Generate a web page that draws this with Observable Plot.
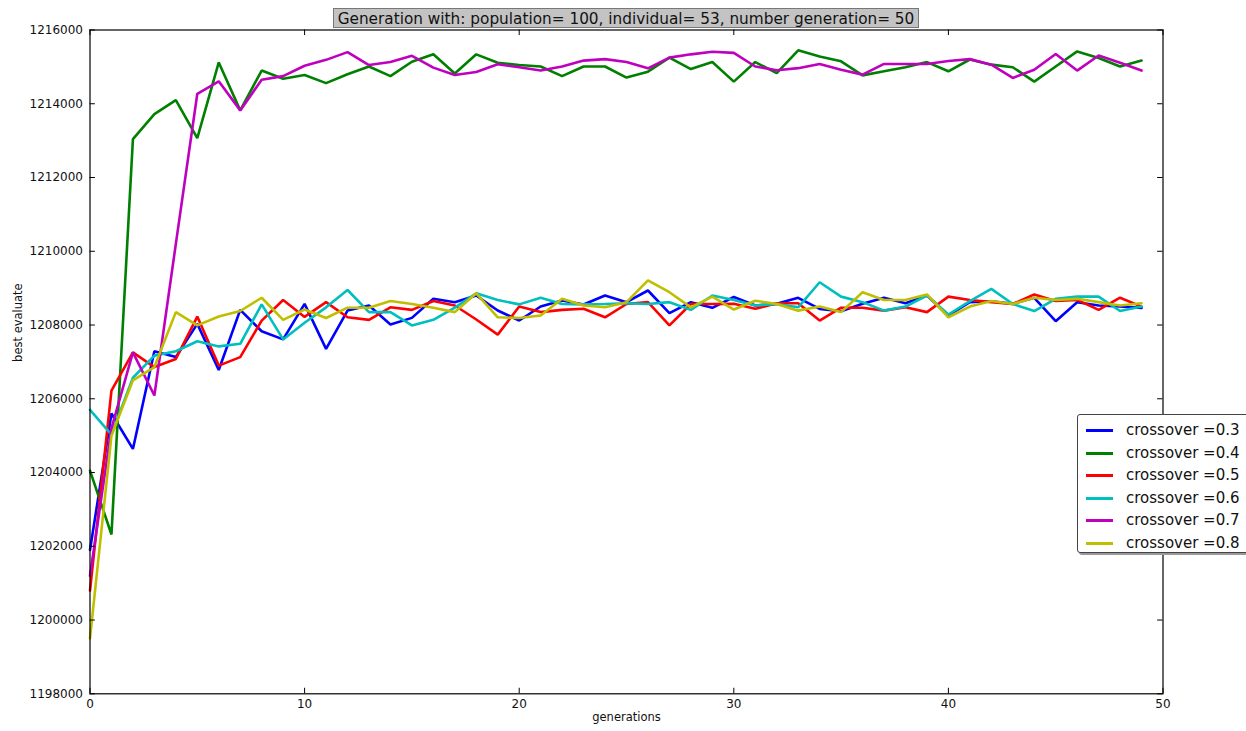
<!DOCTYPE html>
<html>
<head>
<meta charset="utf-8">
<script src="https://cdn.jsdelivr.net/npm/d3@7"></script>
<script src="https://cdn.jsdelivr.net/npm/@observablehq/plot@0.6"></script>
<style>
  html, body { margin: 0; padding: 0; background: white; overflow: hidden; }
  #wrap { position: relative; width: 1246px; height: 731px; font-family: "DejaVu Sans", sans-serif; }
  #title { position: absolute; left: 333px; top: 8px; width: 586px; height: 20px; line-height: 20px;
           background: #c3c3c3; border: 1px solid #777; box-sizing: border-box; text-align: center;
           font-size: 15.3px; color: #111; white-space: nowrap; }
  #legend { position: absolute; left: 1077px; top: 414px; width: 190px; height: 139px; background: white;
            border: 1px solid #444; border-radius: 3px; box-sizing: border-box; box-shadow: 2px 2px 0 #999; }
  .row { position: absolute; left: 0; height: 20px; width: 190px; }
  .swatch { position: absolute; left: 8px; top: 9px; width: 27px; height: 3px; }
  .lab { position: absolute; left: 48px; top: 0; font-size: 15px; line-height: 20px; color: #111; white-space: nowrap; }
</style>
</head>
<body>
<div id="wrap"></div>
<script>
const generations = d3.range(0, 50);
const seriesLabels = ["crossover =0.3", "crossover =0.4", "crossover =0.5", "crossover =0.6", "crossover =0.7", "crossover =0.8"];
const seriesColors = ["#0000ff", "#008000", "#ff0000", "#00bfbf", "#bf00bf", "#bfbf00"];

const cross03 = [1201900, 1205600, 1204640, 1207290, 1207130, 1208030, 1206780, 1208410, 1207830, 1207610,
  1208574, 1207354, 1208393, 1208529, 1208014, 1208194, 1208710, 1208619, 1208800, 1208393,
  1208122, 1208502, 1208664, 1208556, 1208800, 1208619, 1208936, 1208321, 1208619, 1208466,
  1208760, 1208529, 1208574, 1208737, 1208438, 1208375, 1208574, 1208737, 1208592, 1208800,
  1208258, 1208619, 1208646, 1208574, 1208737, 1208104, 1208619, 1208529, 1208502, 1208466];
const cross04 = [1204050, 1202320, 1213040, 1213720, 1214100, 1213070, 1215120, 1213820, 1214900, 1214680,
  1214780, 1214560, 1214800, 1215010, 1214750, 1215140, 1215340, 1214820, 1215340, 1215110,
  1215050, 1215010, 1214750, 1215010, 1215010, 1214710, 1214870, 1215250, 1214940, 1215130,
  1214600, 1215130, 1214830, 1215450, 1215280, 1215150, 1214770, 1214880, 1214990, 1215130,
  1214880, 1215200, 1215060, 1214990, 1214600, 1215010, 1215420, 1215240, 1215010, 1215170];
const cross05 = [1200800, 1206220, 1207260, 1206860, 1207080, 1208230, 1206900, 1207130, 1208120, 1208680,
  1208220, 1208620, 1208210, 1208140, 1208480, 1208410, 1208650, 1208530, 1208150, 1207740,
  1208500, 1208350, 1208410, 1208440, 1208210, 1208570, 1208620, 1207990, 1208570, 1208570,
  1208574, 1208440, 1208590, 1208590, 1208120, 1208470, 1208470, 1208390, 1208480, 1208350,
  1208770, 1208680, 1208620, 1208570, 1208830, 1208650, 1208680, 1208410, 1208740, 1208500];
const cross06 = [1205700, 1205030, 1206570, 1207170, 1207290, 1207560, 1207420, 1207490, 1208560, 1207610,
  1208060, 1208480, 1208950, 1208350, 1208350, 1207990, 1208140, 1208470, 1208860, 1208680,
  1208560, 1208740, 1208570, 1208560, 1208570, 1208590, 1208570, 1208620, 1208410, 1208800,
  1208680, 1208530, 1208570, 1208480, 1209160, 1208770, 1208620, 1208390, 1208500, 1208800,
  1208285, 1208650, 1208980, 1208570, 1208380, 1208710, 1208770, 1208770, 1208380, 1208500];
const cross07 = [1201200, 1205200, 1207260, 1206090, 1210200, 1214270, 1214610, 1213820, 1214650, 1214750,
  1215030, 1215190, 1215400, 1215050, 1215130, 1215300, 1214980, 1214780, 1214860, 1215070,
  1214990, 1214900, 1215010, 1215170, 1215210, 1215130, 1214960, 1215250, 1215340, 1215410,
  1215380, 1215010, 1214910, 1214965, 1215080, 1214920, 1214790, 1215080, 1215080, 1215080,
  1215160, 1215210, 1215060, 1214700, 1214920, 1215350, 1214900, 1215310, 1215110, 1214900];
const cross08 = [1199500, 1205000, 1206500, 1206860, 1208350, 1207990, 1208230, 1208380, 1208740, 1208140,
  1208420, 1208190, 1208470, 1208470, 1208650, 1208570, 1208470, 1208350, 1208860, 1208210,
  1208190, 1208260, 1208710, 1208530, 1208480, 1208620, 1209210, 1208890, 1208480, 1208770,
  1208420, 1208660, 1208570, 1208390, 1208500, 1208350, 1208890, 1208680, 1208680, 1208830,
  1208210, 1208500, 1208650, 1208570, 1208740, 1208680, 1208710, 1208620, 1208530, 1208590];

const xTicks = [0, 10, 20, 30, 40, 50];
const yTicks = [1198000, 1200000, 1202000, 1204000, 1206000, 1208000, 1210000, 1212000, 1214000, 1216000];

const allSeries = [cross03, cross04, cross05, cross06, cross07, cross08];
const data = [];
allSeries.forEach((vals, s) => {
  vals.forEach((v, i) => data.push({gen: generations[i], value: v, series: seriesLabels[s]}));
});

const chart = Plot.plot({
  width: 1246,
  height: 731,
  marginLeft: 89.5,
  marginRight: 83.5,
  marginTop: 29.5,
  marginBottom: 37.7,
  x: {domain: [0, 50], label: null},
  y: {domain: [1198000, 1216000], label: null},
  color: {domain: seriesLabels, range: seriesColors},
  style: {fontFamily: "DejaVu Sans", background: "white", color: "#111", overflow: "visible"},
  marks: [
    Plot.line(data, {x: "gen", y: "value", z: "series", stroke: "series", strokeWidth: 2.6, strokeLinejoin: "miter"}),
    Plot.frame({stroke: "black", strokeWidth: 1.2}),
    Plot.ruleY(yTicks, {y: d => d, x1: 0, x2: 0.25, stroke: "black"}),
    Plot.ruleY(yTicks, {y: d => d, x1: 49.75, x2: 50, stroke: "black"}),
    Plot.ruleX(xTicks, {x: d => d, y1: 1198000, y2: 1198150, stroke: "black"}),
    Plot.ruleX(xTicks, {x: d => d, y1: 1215850, y2: 1216000, stroke: "black"}),
    Plot.axisY({ticks: yTicks, tickSize: 0, tickPadding: 7, tickFormat: d => String(d), fontSize: 12, label: null}),
    Plot.axisX({ticks: xTicks, tickSize: 0, tickPadding: 6, tickFormat: d => String(d), fontSize: 12, label: null}),
    Plot.text(["best evaluate"], {text: d => d, frameAnchor: "left", dx: -72, rotate: -90, fontSize: 11.5}),
    Plot.text(["generations"], {text: d => d, frameAnchor: "bottom", dy: 27, fontSize: 11.5})
  ]
});

const wrap = document.getElementById("wrap");
wrap.appendChild(chart);

const title = document.createElement("div");
title.id = "title";
title.textContent = "Generation with: population= 100, individual= 53, number generation= 50";
wrap.appendChild(title);

const legend = document.createElement("div");
legend.id = "legend";
seriesLabels.forEach((lab, i) => {
  const row = document.createElement("div");
  row.className = "row";
  row.style.top = (5 + i * 22.5) + "px";
  const sw = document.createElement("div");
  sw.className = "swatch";
  sw.style.background = seriesColors[i];
  const t = document.createElement("div");
  t.className = "lab";
  t.textContent = lab;
  row.appendChild(sw);
  row.appendChild(t);
  legend.appendChild(row);
});
wrap.appendChild(legend);
</script>
</body>
</html>
